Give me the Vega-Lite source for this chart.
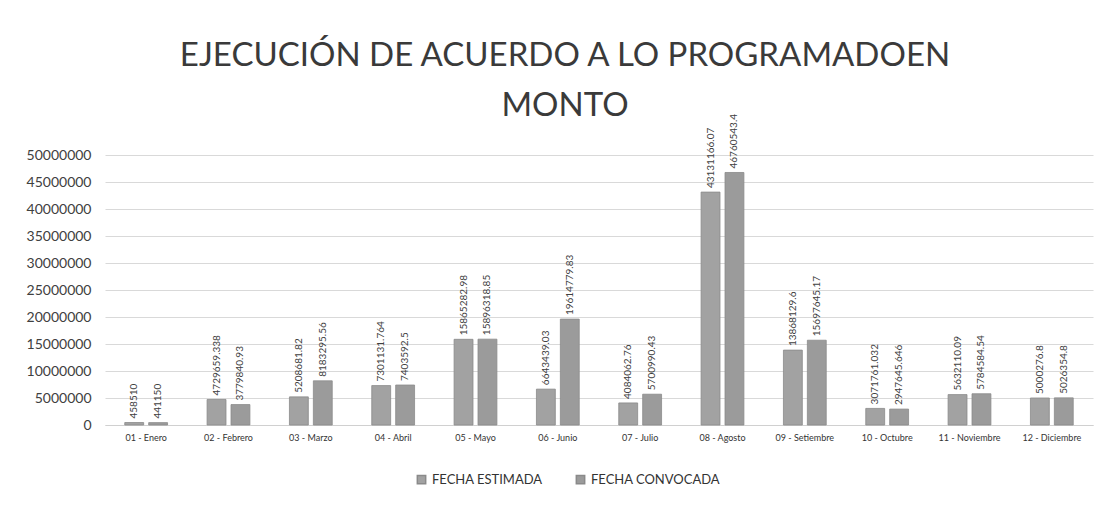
{
  "$schema": "https://vega.github.io/schema/vega-lite/v6.json",
  "width": 988,
  "height": 270,
  "autosize": "none",
  "padding": {"left": 105, "top": 155, "right": 17, "bottom": 85},
  "background": "white",
  "title": {
    "text": ["EJECUCIÓN DE ACUERDO A LO PROGRAMADOEN", "MONTO"],
    "font": "Lato",
    "fontSize": 33,
    "fontWeight": "normal",
    "color": "#3a3a3a",
    "lineHeight": 50,
    "anchor": "middle",
    "dx": -34,
    "offset": -9
  },
  "data": {
    "values": [
      {"mes": "01 - Enero", "serie": "FECHA ESTIMADA", "monto": 458510},
      {"mes": "01 - Enero", "serie": "FECHA CONVOCADA", "monto": 441150},
      {"mes": "02 - Febrero", "serie": "FECHA ESTIMADA", "monto": 4729659.338},
      {"mes": "02 - Febrero", "serie": "FECHA CONVOCADA", "monto": 3779840.93},
      {"mes": "03 - Marzo", "serie": "FECHA ESTIMADA", "monto": 5208681.82},
      {"mes": "03 - Marzo", "serie": "FECHA CONVOCADA", "monto": 8183295.56},
      {"mes": "04 - Abril", "serie": "FECHA ESTIMADA", "monto": 7301131.764},
      {"mes": "04 - Abril", "serie": "FECHA CONVOCADA", "monto": 7403592.5},
      {"mes": "05 - Mayo", "serie": "FECHA ESTIMADA", "monto": 15865282.98},
      {"mes": "05 - Mayo", "serie": "FECHA CONVOCADA", "monto": 15896318.85},
      {"mes": "06 - Junio", "serie": "FECHA ESTIMADA", "monto": 6643439.03},
      {"mes": "06 - Junio", "serie": "FECHA CONVOCADA", "monto": 19614779.83},
      {"mes": "07 - Julio", "serie": "FECHA ESTIMADA", "monto": 4084062.76},
      {"mes": "07 - Julio", "serie": "FECHA CONVOCADA", "monto": 5700990.43},
      {"mes": "08 - Agosto", "serie": "FECHA ESTIMADA", "monto": 43131166.07},
      {"mes": "08 - Agosto", "serie": "FECHA CONVOCADA", "monto": 46760543.4},
      {"mes": "09 - Setiembre", "serie": "FECHA ESTIMADA", "monto": 13868129.6},
      {"mes": "09 - Setiembre", "serie": "FECHA CONVOCADA", "monto": 15697645.17},
      {"mes": "10 - Octubre", "serie": "FECHA ESTIMADA", "monto": 3071761.032},
      {"mes": "10 - Octubre", "serie": "FECHA CONVOCADA", "monto": 2947645.646},
      {"mes": "11 - Noviembre", "serie": "FECHA ESTIMADA", "monto": 5632110.09},
      {"mes": "11 - Noviembre", "serie": "FECHA CONVOCADA", "monto": 5784584.54},
      {"mes": "12 - Diciembre", "serie": "FECHA ESTIMADA", "monto": 5000276.8},
      {"mes": "12 - Diciembre", "serie": "FECHA CONVOCADA", "monto": 5026354.8}
    ]
  },
  "encoding": {
    "x": {
      "field": "mes",
      "type": "nominal",
      "sort": null,
      "scale": {"paddingInner": 0.48, "paddingOuter": 0.24},
      "axis": {
        "title": null,
        "labelAngle": 0,
        "labelFont": "Lato",
        "labelFontSize": 9,
        "labelColor": "#333333",
        "labelPadding": 8,
        "ticks": false,
        "domainColor": "#d0d0d0",
        "grid": false
      }
    },
    "xOffset": {
      "field": "serie",
      "type": "nominal",
      "sort": ["FECHA ESTIMADA", "FECHA CONVOCADA"],
      "scale": {"paddingInner": 0.21, "paddingOuter": 0}
    },
    "y": {
      "field": "monto",
      "type": "quantitative",
      "scale": {"domain": [0, 50000000], "nice": false},
      "axis": {
        "title": null,
        "values": [0, 5000000, 10000000, 15000000, 20000000, 25000000, 30000000, 35000000, 40000000, 45000000, 50000000],
        "format": "d",
        "labelFont": "Lato",
        "labelFontSize": 14,
        "labelColor": "#404040",
        "labelPadding": 14,
        "ticks": false,
        "domain": false,
        "gridColor": "#d9d9d9"
      }
    }
  },
  "layer": [
    {
      "mark": {"type": "bar", "stroke": "#8a8a8a", "strokeWidth": 0.8},
      "encoding": {
        "color": {
          "field": "serie",
          "type": "nominal",
          "sort": ["FECHA ESTIMADA", "FECHA CONVOCADA"],
          "scale": {"domain": ["FECHA ESTIMADA", "FECHA CONVOCADA"], "range": ["#a2a2a2", "#9b9b9b"]},
          "legend": {
            "title": null,
            "orient": "none",
            "legendX": 310,
            "legendY": 318,
            "direction": "horizontal",
            "symbolType": "square",
            "symbolSize": 70,
            "labelFont": "Lato",
            "labelFontSize": 13,
            "labelColor": "#333333",
            "columnPadding": 30
          }
        }
      }
    },
    {
      "mark": {
        "type": "text",
        "angle": 270,
        "align": "left",
        "baseline": "middle",
        "dx": 4,
        "font": "Lato",
        "fontSize": 10,
        "color": "#404040"
      },
      "encoding": {
        "text": {"field": "monto", "type": "nominal"}
      }
    }
  ],
  "config": {"view": {"stroke": null}}
}
